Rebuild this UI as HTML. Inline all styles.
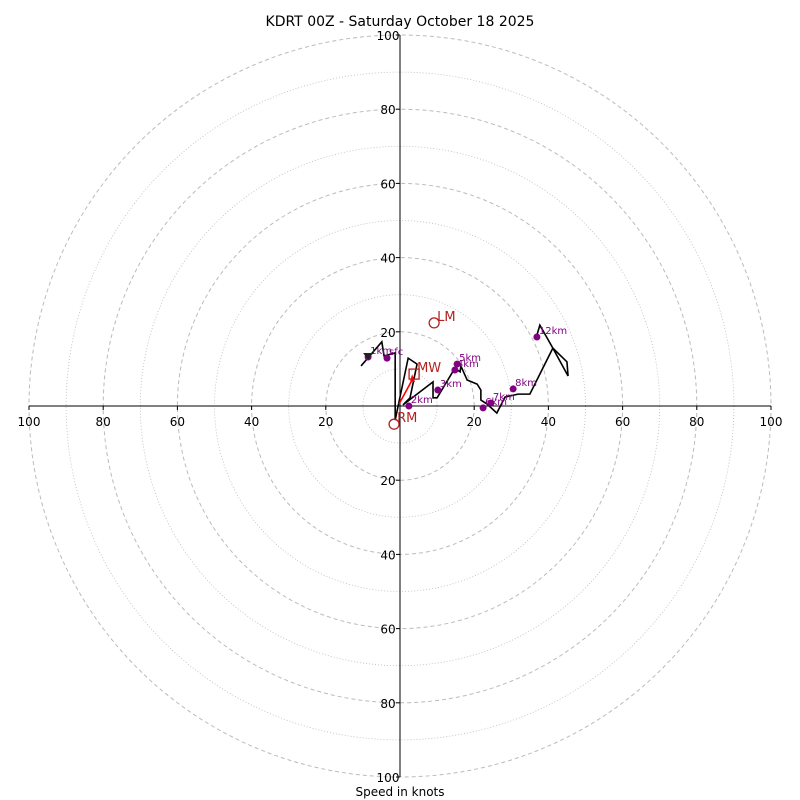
<!DOCTYPE html>
<html><head><meta charset="utf-8"><style>body{margin:0;background:#fff}svg{display:block;font-family:"DejaVu Sans","Liberation Sans",sans-serif}</style></head>
<body>
<svg id="c" width="800" height="800"></svg>
<script>
const ringValues=[10,20,30,40,50,60,70,80,90,100];
const tickLabels=[20,40,60,80,100];
const traceU=[-10.5,-4.9,-4.3,-1.3,-1.3,2.2,4.6,2.7,0.8,8.9,8.9,10.0,14.8,16.2,16.4,18.1,20.8,21.8,21.8,23.5,26.1,28.3,31.8,35.0,41.2,45.0,45.3,41.2,37.7,36.9];
const traceV=[10.8,17.3,13.5,14.3,-3.8,12.9,11.3,2.2,0.3,6.5,2.2,2.2,10.2,9.2,10.8,7.0,5.9,4.3,1.6,0.5,-1.9,2.4,3.2,3.2,15.6,11.9,8.1,15.6,21.8,19.1];
const markerLabels=["sfc","1km","2km","3km","4km","5km","6km","7km","8km","12km"];
const markerU=[-3.5,-8.6,2.4,10.2,14.8,15.4,22.4,24.5,30.5,36.9];
const markerV=[12.9,13.2,0,4.3,9.7,11.3,-0.5,0.8,4.6,18.6];
const lm=[9.2,22.4], mw=[3.8,8.6], rm=[-1.6,-4.9];
const NS="http://www.w3.org/2000/svg", svg=document.getElementById('c');
const cx=400, cy=406, k=3.71;
const X=u=>cx+u*k, Y=v=>cy-v*k;
function el(t,a,p){const e=document.createElementNS(NS,t);for(const n in a)e.setAttribute(n,a[n]);(p||svg).appendChild(e);return e;}
ringValues.forEach(r=>{const c=el('circle',{cx:cx,cy:cy,r:r*k,fill:'none',stroke:'#bbb','stroke-width':r%20?0.8:1,'stroke-dasharray':r%20?'1,2':'4,3'});

});
let a=el('line',{x1:X(-100),y1:cy,x2:X(100),y2:cy,stroke:'#000'});
a=el('line',{x1:cx,y1:Y(100),x2:cx,y2:Y(-100),stroke:'#000'});
tickLabels.forEach(t=>{
 [[X(t),cy+20],[X(-t),cy+20]].forEach(p=>{const e=el('text',{x:p[0],y:p[1],'font-size':12,'text-anchor':'middle'});e.textContent=t;
 
 
 el('line',{x1:p[0],y1:cy,x2:p[0],y2:cy+4,stroke:'#000'});});
 [Y(t),Y(-t)].forEach(py=>{const e=el('text',{x:cx-12,y:py+5,'font-size':12,'text-anchor':'middle',fill:'#000'});e.textContent=t;
 
 
 el('line',{x1:cx-4,y1:py,x2:cx,y2:py,stroke:'#000'});});
});
let pts=traceU.map((u,i)=>X(u)+','+Y(traceV[i])).join(' ');
a=el('polyline',{points:pts,fill:'none',stroke:'#000','stroke-width':1.6});
markerU.forEach((u,i)=>{const c=el('circle',{cx:X(u),cy:Y(markerV[i]),r:3.5,fill:'purple'});


const t=el('text',{x:X(u)+2,y:Y(markerV[i])-3,'font-size':10,fill:'purple'});t.textContent=markerLabels[i];

});
a=el('path',{d:`M${X(-8.6)-5},${Y(13.2)-4}h10l-5,7z`,fill:'#222'});
a=el('line',{x1:cx-1,y1:cy-2,x2:X(mw[0])-2,y2:Y(mw[1])+6,stroke:'red','stroke-width':1.6});
el('path',{d:`M${X(mw[0])-4},${Y(mw[1])+7}l2,-7l3,8z`,fill:'red'});
a=el('circle',{cx:X(lm[0]),cy:Y(lm[1]),r:5,fill:'none',stroke:'#b22222','stroke-width':1.3});
a=el('text',{x:X(lm[0])+3,y:Y(lm[1])-2,'font-size':13,fill:'#b22222'});a.textContent='LM';
a=el('rect',{x:X(mw[0])-5,y:Y(mw[1])-5,width:10,height:10,fill:'none',stroke:'#b22222','stroke-width':1.3});
a=el('text',{x:X(mw[0])+3,y:Y(mw[1])-2,'font-size':13,fill:'#b22222'});a.textContent='MW';
a=el('circle',{cx:X(rm[0]),cy:Y(rm[1]),r:5,fill:'none',stroke:'#b22222','stroke-width':1.3});
a=el('text',{x:X(rm[0])+3,y:Y(rm[1])-2,'font-size':13,fill:'#b22222'});a.textContent='RM';
a=el('text',{x:400,y:26,'font-size':14,'text-anchor':'middle'});a.textContent='KDRT 00Z - Saturday October 18 2025';
a=el('text',{x:400,y:796,'font-size':12,'text-anchor':'middle'});a.textContent='Speed in knots';
</script>
</body></html>
